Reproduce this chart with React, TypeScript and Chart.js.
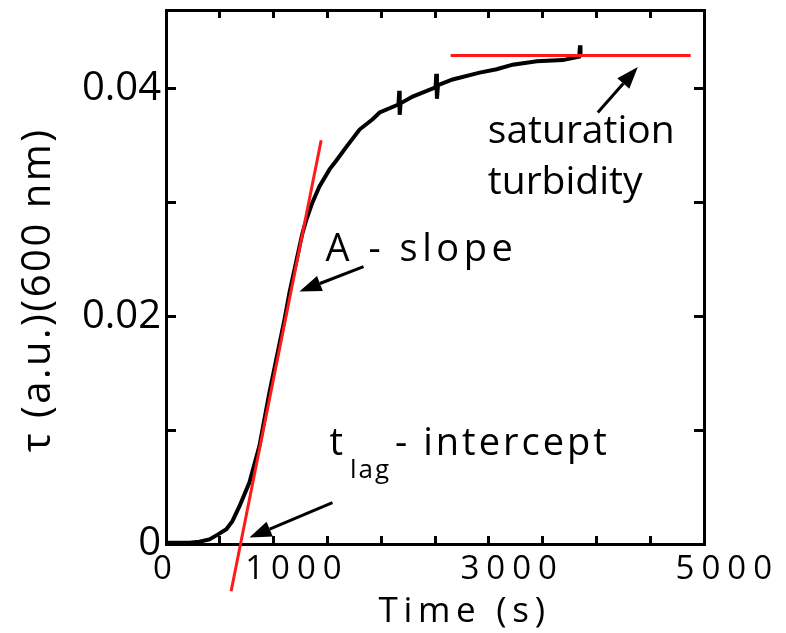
import React, { useEffect, useRef } from 'react';
import { Chart, registerables } from 'chart.js';

Chart.register(...registerables);

const FONT = "'Open Sans', sans-serif";

// Turbidity curve, time in seconds, tau in a.u.
const curveTime = [12, 217, 310, 403, 477, 561, 617, 682, 775, 868, 961, 1101, 1148, 1194, 1240, 1268, 1305, 1361, 1426, 1520, 1585, 1678, 1799, 1920, 1986, 2160, 2168, 2172, 2180, 2292, 2505, 2512, 2518, 2528, 2664, 2915, 3073, 3222, 3446, 3688, 3840, 3848, 3852];
const curveTau = [0.0001, 0.0001, 0.0002, 0.0004, 0.0008, 0.0013, 0.002, 0.0033, 0.0054, 0.0086, 0.0133, 0.0197, 0.0221, 0.0241, 0.0261, 0.0273, 0.0285, 0.03, 0.0314, 0.0329, 0.0337, 0.0349, 0.0364, 0.0373, 0.0379, 0.0386, 0.0398, 0.0377, 0.0387, 0.0393, 0.0401, 0.0413, 0.0391, 0.0403, 0.0408, 0.0414, 0.0417, 0.0421, 0.0424, 0.0425, 0.0428, 0.0438, 0.0428];

// Tangent (slope) line
const slopeTime = [605, 1442];
const slopeTau = [-0.00415, 0.03546];

// Saturation plateau line
const plateauTime = [2645, 4876];
const plateauTau = [0.0429, 0.0429];

// Tick labels
const xTickValues = [0, 1000, 3000, 5000];
const xTickLabels = ['0', '1000', '3000', '5000'];
const yTickValues = [0, 0.02, 0.04];
const yTickLabels = ['0', '0.02', '0.04'];

// Annotations (anchored in data units)
const noteTexts = [
  { text: 'saturation', x: 2991, y: 0.03523, size: 39, spacing: 0 },
  { text: 'turbidity', x: 2991, y: 0.0307, size: 39, spacing: 0 },
  { text: 'A - slope', x: 1483, y: 0.02483, size: 38, spacing: 4.5 },
];
const lagNote = { x: 1519, y: 0.00786 };
const arrows = [
  { x1: 4013, y1: 0.0379, x2: 4385, y2: 0.0419 },
  { x1: 1836, y1: 0.02437, x2: 1240, y2: 0.02218 },
  { x1: 1547, y1: 0.00364, x2: 775, y2: 0.00056 },
];

const toPoints = (xs: number[], ys: number[]) => xs.map((x, i) => ({ x, y: ys[i] }));

function withSpacing(fn: any, spacing: string) {
  return function (this: any, ...args: any[]) {
    const ctx = this.ctx;
    const prev = ctx.letterSpacing;
    ctx.letterSpacing = spacing;
    try {
      return fn.apply(this, args);
    } finally {
      ctx.letterSpacing = prev;
    }
  };
}

const spacingPlugin = {
  id: 'spacingPlugin',
  beforeDraw(chart: any) {
    const sx = chart.scales.x;
    if (sx && !sx.__spaced) {
      sx.drawLabels = withSpacing(sx.drawLabels, '7px');
      sx.drawTitle = withSpacing(sx.drawTitle, '5.7px');
      sx.__spaced = true;
    }
    const sy = chart.scales.y;
    if (sy && !sy.__spaced) {
      sy.drawTitle = withSpacing(sy.drawTitle, '2.5px');
      sy.__spaced = true;
    }
  },
};

function drawArrow(ctx: CanvasRenderingContext2D, x1: number, y1: number, x2: number, y2: number) {
  const ang = Math.atan2(y2 - y1, x2 - x1);
  const headLen = 22;
  const headHalf = 8;
  const bx = x2 - headLen * Math.cos(ang);
  const by = y2 - headLen * Math.sin(ang);
  ctx.beginPath();
  ctx.moveTo(x1, y1);
  ctx.lineTo(bx, by);
  ctx.lineWidth = 3;
  ctx.stroke();
  ctx.beginPath();
  ctx.moveTo(x2, y2);
  ctx.lineTo(bx + headHalf * Math.sin(ang), by - headHalf * Math.cos(ang));
  ctx.lineTo(bx - headHalf * Math.sin(ang), by + headHalf * Math.cos(ang));
  ctx.closePath();
  ctx.fill();
}

const annotationPlugin = {
  id: 'annotationPlugin',
  afterDraw(chart: any) {
    const { ctx } = chart;
    const sx = chart.scales.x;
    const sy = chart.scales.y;
    ctx.save();
    ctx.fillStyle = '#000';
    ctx.strokeStyle = '#000';
    ctx.textAlign = 'left';
    ctx.textBaseline = 'alphabetic';
    for (const t of noteTexts) {
      ctx.font = `${t.size}px ${FONT}`;
      ctx.letterSpacing = `${t.spacing}px`;
      ctx.fillText(t.text, sx.getPixelForValue(t.x), sy.getPixelForValue(t.y));
    }
    // t_lag - intercept
    let px = sx.getPixelForValue(lagNote.x);
    const py = sy.getPixelForValue(lagNote.y);
    ctx.font = `38px ${FONT}`;
    ctx.letterSpacing = '0px';
    ctx.fillText('t', px, py);
    px += ctx.measureText('t').width + 7;
    ctx.font = `26px ${FONT}`;
    ctx.letterSpacing = '2px';
    ctx.fillText('lag', px, py + 23);
    px += ctx.measureText('lag').width + 4;
    ctx.font = `38px ${FONT}`;
    ctx.letterSpacing = '3px';
    ctx.fillText('- intercept', px, py);
    ctx.letterSpacing = '0px';
    for (const a of arrows) {
      drawArrow(ctx, sx.getPixelForValue(a.x1), sy.getPixelForValue(a.y1), sx.getPixelForValue(a.x2), sy.getPixelForValue(a.y2));
    }
    ctx.restore();
  },
};

const gridX = { display: true, drawOnChartArea: false, drawTicks: true, tickLength: -8, tickWidth: 3, tickColor: '#000' };
const gridY = { display: true, drawOnChartArea: false, drawTicks: true, tickLength: -10, tickWidth: 3, tickColor: '#000' };
const border = { display: true, color: '#000', width: 3 };

const keepYTicks = (s: any) => {
  s.ticks = s.ticks.filter((t: any) => t.value <= 0.04 + 1e-9);
};

export default function App() {
  const ref = useRef<HTMLCanvasElement | null>(null);
  useEffect(() => {
    if (!ref.current) return;
    const chart = new Chart(ref.current, {
      type: 'line',
      data: {
        datasets: [
          {
            data: toPoints(curveTime, curveTau),
            borderColor: '#000',
            borderWidth: 4,
            pointRadius: 0,
            tension: 0,
            order: 2,
          },
          {
            data: toPoints(slopeTime, slopeTau),
            borderColor: '#ff1a1a',
            borderWidth: 3,
            pointRadius: 0,
            clip: false,
            order: 1,
          },
          {
            data: toPoints(plateauTime, plateauTau),
            borderColor: '#ff1a1a',
            borderWidth: 3,
            pointRadius: 0,
            order: 1,
          },
        ],
      },
      options: {
        animation: false,
        responsive: false,
        layout: { padding: 0 },
        plugins: { legend: { display: false }, tooltip: { enabled: false } },
        scales: {
          x: {
            type: 'linear',
            position: 'bottom',
            min: 0,
            max: 5000,
            ticks: {
              stepSize: 500,
              autoSkip: false,
              maxRotation: 0,
              padding: 14,
              color: '#000',
              font: { family: FONT, size: 33 },
              callback: (v: any) => {
                const i = xTickValues.indexOf(Number(v));
                if (i < 0) return '';
                return i === 0 ? xTickLabels[i] : '   ' + xTickLabels[i];
              },
            },
            grid: gridX,
            border,
            title: {
              display: true,
              text: '    Time (s)',
              color: '#000',
              font: { family: FONT, size: 35, lineHeight: 1 },
              padding: { top: 0, bottom: 3.5 },
            },
            afterFit: (s: any) => {
              s.height = 89;
              s.paddingLeft = 0;
              s.paddingRight = 0;
            },
          },
          x2: {
            type: 'linear',
            position: 'top',
            min: 0,
            max: 5000,
            ticks: { stepSize: 500, display: false },
            grid: gridX,
            border,
            afterFit: (s: any) => {
              s.height = 10;
              s.paddingLeft = 0;
              s.paddingRight = 0;
            },
          },
          y: {
            type: 'linear',
            position: 'left',
            min: 0,
            max: 0.0469,
            afterBuildTicks: keepYTicks,
            ticks: {
              stepSize: 0.01,
              autoSkip: false,
              padding: 15,
              color: '#000',
              font: { family: FONT, size: 40 },
              callback: (v: any) => {
                const i = yTickValues.findIndex((t) => Math.abs(t - Number(v)) < 1e-9);
                return i < 0 ? '' : yTickLabels[i];
              },
            },
            grid: gridY,
            border,
            title: {
              display: true,
              text: 'τ (a.u.)(600 nm)  ',
              color: '#000',
              font: { family: FONT, size: 40, lineHeight: 1 },
              padding: { top: 19, bottom: 0 },
            },
            afterFit: (s: any) => {
              s.width = 166;
              s.paddingTop = 0;
              s.paddingBottom = 0;
            },
          },
          y2: {
            type: 'linear',
            position: 'right',
            min: 0,
            max: 0.0469,
            afterBuildTicks: keepYTicks,
            ticks: { stepSize: 0.01, display: false },
            grid: gridY,
            border,
            afterFit: (s: any) => {
              s.width = 82;
              s.paddingTop = 0;
              s.paddingBottom = 0;
            },
          },
        },
      } as any,
      plugins: [spacingPlugin, annotationPlugin],
    });
    return () => chart.destroy();
  }, []);
  return (
    <div style={{ position: 'fixed', left: 0, top: 0, width: 786, height: 633, background: '#fff' }}>
      <canvas ref={ref} width={786} height={633} style={{ display: 'block' }} />
    </div>
  );
}
